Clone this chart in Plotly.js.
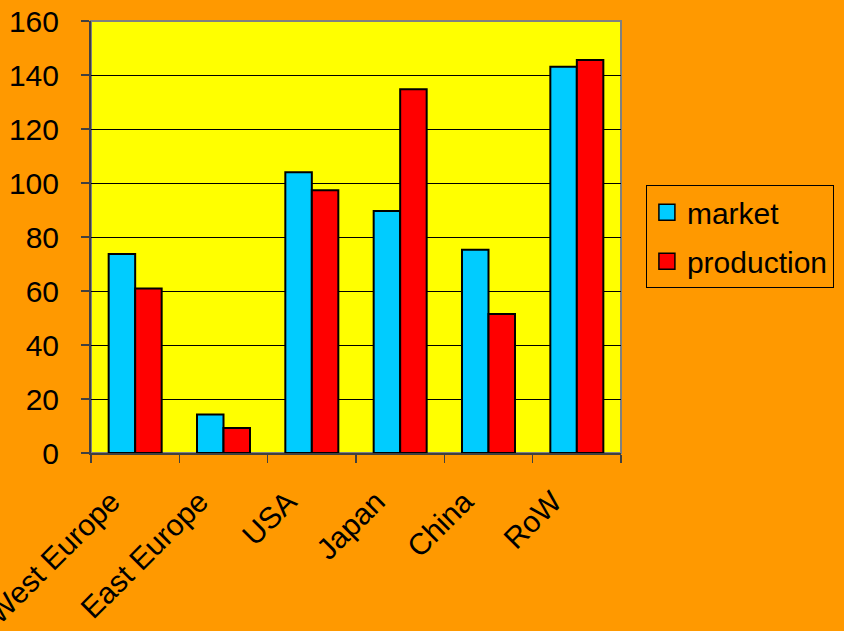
<!DOCTYPE html>
<html>
<head>
<meta charset="utf-8">
<script src="https://cdn.plot.ly/plotly-3.0.1.min.js"></script>
<style>html,body{margin:0;padding:0;background:#FF9900;}#chart{width:844px;height:631px;}</style>
</head>
<body>
<div id="chart"></div>
<script>
const regions = ["West Europe", "East Europe", "USA", "Japan", "China", "RoW"];
const market = [73.7, 14.3, 104, 89.6, 75.3, 143.1];
const production = [60.9, 9.3, 97.3, 134.7, 51.5, 145.6];
const seriesNames = ["market", "production"];
const yTicks = [0, 20, 40, 60, 80, 100, 120, 140, 160];

const colors = ["#00CCFF", "#FF0000"];
const FONT = "Liberation Sans, Arial, sans-serif";

const traces = [
  {type: "bar", x: regions, y: market, name: seriesNames[0], showlegend: false,
   marker: {color: colors[0], line: {color: "#000", width: 2}}, hoverinfo: "x+y"},
  {type: "bar", x: regions, y: production, name: seriesNames[1], showlegend: false,
   marker: {color: colors[1], line: {color: "#000", width: 2}}, hoverinfo: "x+y"},
  {type: "scatter", mode: "markers", x: [null], y: [null], name: seriesNames[0], legendgroup: "a",
   marker: {symbol: "square", size: 16, color: colors[0], line: {color: "#000", width: 1.5}}},
  {type: "scatter", mode: "markers", x: [null], y: [null], name: seriesNames[1], legendgroup: "b",
   marker: {symbol: "square", size: 16, color: colors[1], line: {color: "#000", width: 1.5}}}
];

const layout = {
  width: 844, height: 631,
  paper_bgcolor: "#FF9900",
  plot_bgcolor: "#FFFF00",
  font: {family: FONT, size: 30, color: "#000"},
  margin: {l: 91, r: 223, t: 21, b: 178, autoexpand: false},
  barmode: "group",
  bargap: 0.4,
  bargroupgap: 0,
  showlegend: true,
  legend: {
    x: 1.047, xanchor: "left", y: 0.62, yanchor: "top",
    bgcolor: "#FF9900", bordercolor: "#000", borderwidth: 1,
    font: {family: FONT, size: 30, color: "#000"},
    traceorder: "grouped", tracegroupgap: 7,
    entrywidth: 165
  },
  xaxis: {
    type: "category",
    tickangle: -45,
    tickson: "boundaries",
    ticks: "outside", ticklen: 8, tickwidth: 1.5, tickcolor: "#404040",
    showline: true, linecolor: "#404040", linewidth: 2,
    showgrid: false, zeroline: false,
    ticklabelshift: -24,
    ticklabelstandoff: 17,
    tickfont: {family: FONT, size: 30, color: "#000"}
  },
  yaxis: {
    range: [0, 160],
    tickvals: yTicks,
    ticktext: yTicks.map(String),
    ticks: "outside", ticklen: 8, tickwidth: 1.5, tickcolor: "#404040",
    showline: true, linecolor: "#404040", linewidth: 2,
    showgrid: true, gridcolor: "#000", gridwidth: 1,
    zeroline: false,
    ticklabelstandoff: 16,
    tickfont: {family: FONT, size: 30, color: "#000"}
  },
  shapes: [
    {type: "rect", xref: "paper", yref: "paper", x0: 0, x1: 1, y0: 0, y1: 1,
     line: {color: "#808080", width: 2}, layer: "below", fillcolor: "rgba(0,0,0,0)"}
  ]
};

Plotly.newPlot("chart", traces, layout, {displayModeBar: false, staticPlot: true});
</script>
</body>
</html>
